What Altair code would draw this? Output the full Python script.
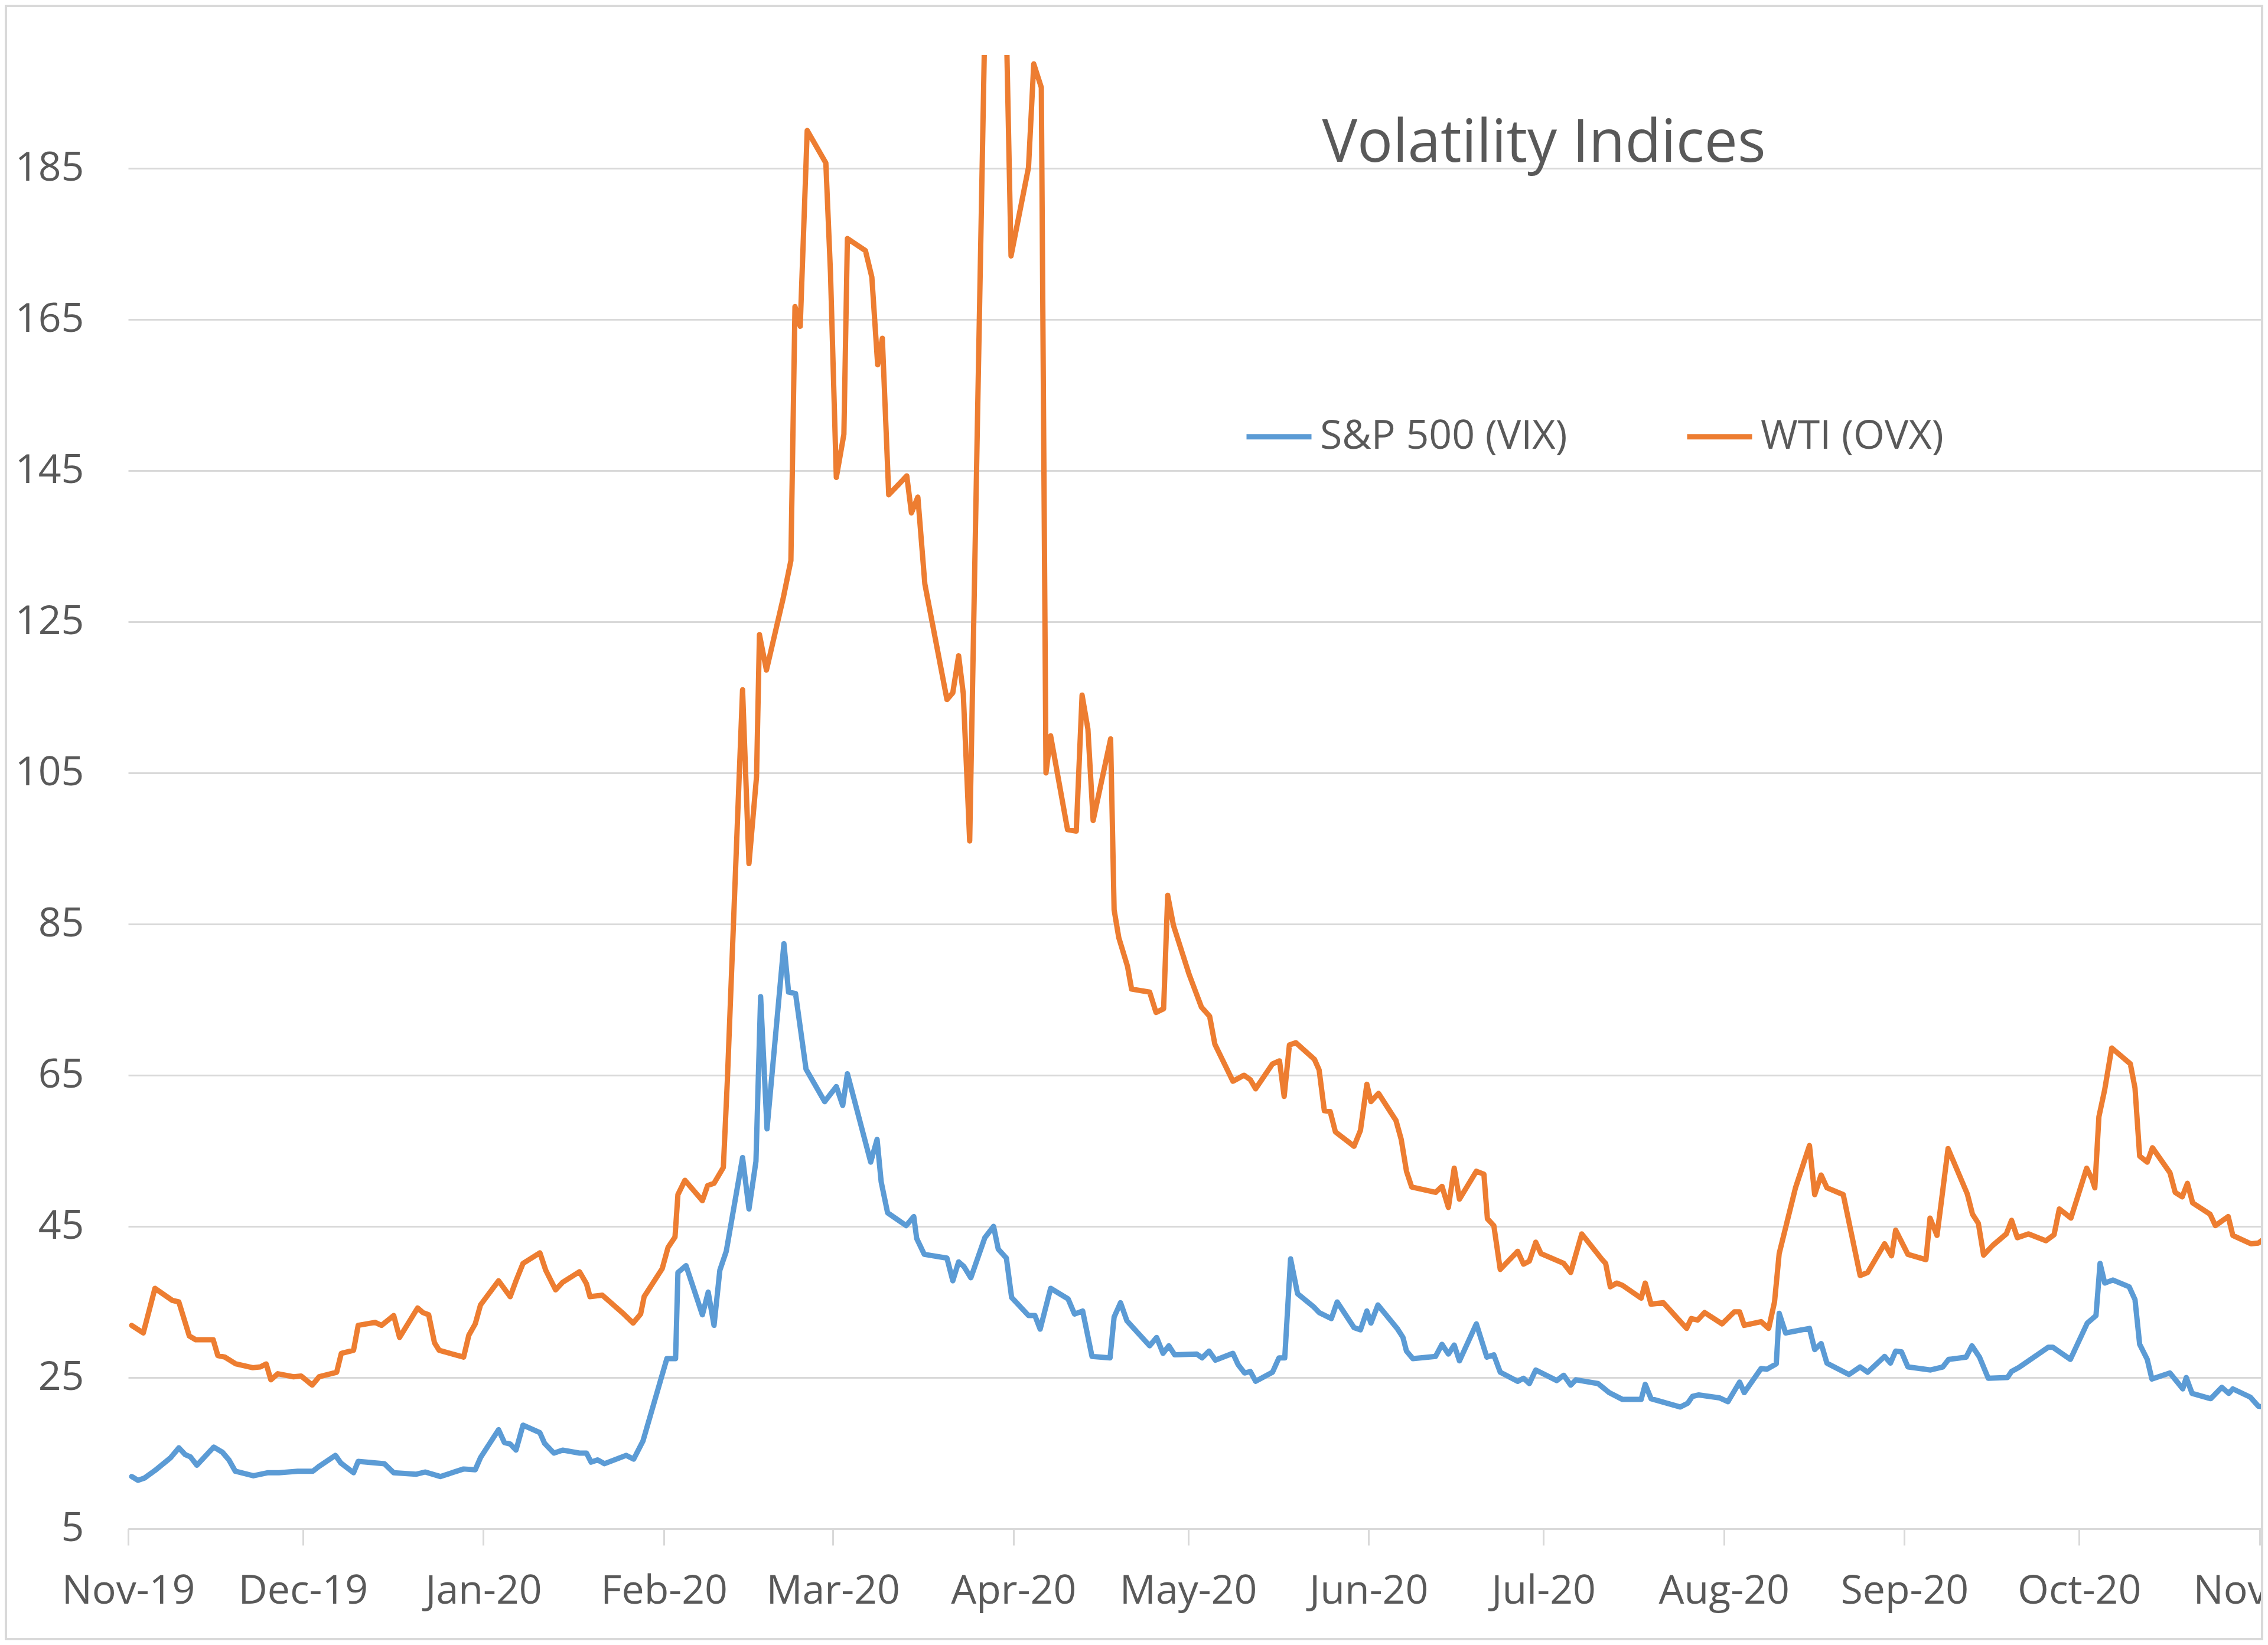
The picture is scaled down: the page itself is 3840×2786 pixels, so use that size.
import altair as alt
import pandas as pd

# ---- data (days since 1 Nov 2019, index level) ----
vix_days = [0.6, 1.7, 2.8, 4.6, 7.3, 8.7, 9.8, 10.7, 11.8, 14.7, 16.2, 17.3, 18.4, 21.5, 23.9, 25.9,
            29.1, 31.7, 32.7, 35.6, 36.5, 38.7, 39.5, 44.0, 45.6, 49.4, 51.0, 53.6, 57.6, 59.6, 60.5,
            63.6, 64.6, 65.6, 66.6, 67.8, 70.7, 71.5, 73.1, 74.6, 77.5, 78.7, 79.5, 80.6, 81.8, 85.5,
            86.8, 88.4, 92.5, 94.0, 94.4, 95.8, 98.6, 99.6, 100.6, 101.6, 102.7, 105.5, 106.6, 107.8,
            108.6, 109.7, 112.6, 113.4, 114.6, 116.4, 119.6, 121.6, 122.7, 123.5, 127.5, 128.6, 129.3,
            130.4, 133.6, 134.9, 135.4, 136.7, 140.6, 141.6, 142.6, 143.5, 144.7, 147.1, 148.6, 149.4,
            150.8, 151.7, 154.6, 155.7, 156.6, 158.4, 161.4, 162.5, 163.9, 165.5, 168.6, 169.3, 170.4,
            171.5, 175.4, 176.6, 177.7, 178.7, 179.7, 183.5, 184.4, 185.6, 186.7, 189.7, 190.6, 191.7,
            192.7, 193.6, 196.5, 197.6, 198.6, 199.6, 200.8, 203.5, 204.5, 206.6, 207.6, 210.5, 211.6,
            212.7, 213.4, 214.6, 217.9, 218.9, 219.5, 220.6, 224.5, 225.6, 226.7, 227.7, 228.6, 231.5,
            233.3, 234.5, 235.6, 238.6, 239.6, 240.6, 241.7, 245.3, 246.5, 247.7, 248.6, 252.4, 254.3,
            256.6, 259.8, 260.5, 261.5, 266.5, 267.8, 268.6, 269.7, 273.3, 274.7, 276.7, 277.5, 280.4,
            281.4, 283.0, 283.5, 284.6, 288.7, 289.6, 290.7, 291.7, 295.5, 297.4, 298.7, 301.6, 302.6,
            303.5, 304.5, 305.6, 309.5, 311.6, 312.6, 315.6, 316.6, 317.9, 319.4, 322.7, 323.4, 324.8,
            329.7, 330.5, 333.5, 336.4, 337.9, 338.6, 339.4, 340.8, 343.6, 344.6, 345.4, 346.7, 347.5,
            350.6, 352.8, 353.4, 354.4, 357.6, 359.5, 360.7, 361.4, 364.4, 365.8, 366.7]
vix_values = [11.9, 11.4, 11.7, 12.7, 14.4, 15.7, 14.8, 14.5, 13.4, 15.8, 15.1, 14.1, 12.6, 12.0, 12.4, 12.4,
              12.6, 12.6, 13.2, 14.7, 13.7, 12.4, 13.9, 13.6, 12.4, 12.2, 12.5, 11.9, 12.9, 12.8, 14.4,
              18.1, 16.4, 16.2, 15.4, 18.7, 17.7, 16.3, 15.0, 15.4, 15.0, 15.0, 13.8, 14.1, 13.6, 14.7,
              14.2, 16.6, 27.5, 27.5, 38.9, 39.8, 33.3, 36.3, 31.9, 39.2, 41.7, 54.1, 47.3, 53.6,
              75.4, 57.9, 82.4, 76.0, 75.8, 65.8, 61.5, 63.5, 61.0, 65.2, 53.5, 56.5, 50.9,
              46.8, 45.1, 46.3, 43.4, 41.3, 40.8, 37.8, 40.3, 39.7, 38.2, 43.5, 45.0, 42.0,
              40.8, 35.6, 33.2, 33.2, 31.4, 36.8, 35.4, 33.4, 33.8, 27.8, 27.6, 33.0, 34.9,
              32.5, 29.2, 30.3, 28.2, 29.2, 28.0, 28.1, 27.6, 28.5, 27.3, 28.2, 26.7, 25.6,
              25.8, 24.5, 25.7, 27.6, 27.6, 40.7, 36.1, 34.4, 33.6, 32.8, 35.0, 31.6, 31.3,
              33.8, 32.2, 34.6, 31.5, 30.3, 28.5, 27.5, 27.8, 29.4, 28.1, 29.3, 27.2, 32.1,
              27.7, 28.0, 25.7, 24.5, 24.9, 24.2, 26.0, 24.6, 25.3, 24.0, 24.7, 24.2, 23.0,
              22.1, 22.1, 24.1, 22.2, 21.1, 21.6, 22.5, 22.7, 22.3, 21.8, 24.4, 23.0, 26.2,
              26.1, 26.8, 33.5, 30.9, 31.5, 28.7, 29.5, 26.9, 25.4, 26.4, 25.7, 27.8, 26.9,
              28.5, 28.4, 26.4, 26.0, 26.4, 27.4, 27.7, 29.2, 27.7, 24.9, 25.0, 25.8, 26.4,
              29.0, 29.0, 27.4, 32.2, 33.2, 40.1, 37.5, 37.9, 37.0, 35.3, 29.4, 27.4, 24.8,
              25.6, 23.5, 25.0, 22.9, 22.2, 23.7, 22.9, 23.5, 22.4, 21.2, 21.1]

ovx_days = [0.6, 2.6, 4.6, 7.6, 8.7, 10.5, 11.6, 14.6, 15.4, 16.6, 18.5, 21.4, 22.7, 23.7, 24.5, 25.7,
            28.4, 29.7, 31.6, 32.8, 35.8, 36.6, 38.7, 39.5, 42.4, 43.5, 45.6, 46.6, 49.7, 50.6, 51.6,
            52.6, 53.4, 57.6, 58.5, 59.6, 60.5, 63.6, 65.6, 66.6, 67.8, 70.7, 71.7, 73.4, 74.6, 77.5,
            78.7, 79.3, 81.4, 85.1, 86.7, 88.0, 88.6, 91.7, 92.7, 93.9, 94.4, 95.6, 98.6, 99.5, 100.6,
            102.2, 102.9, 105.5, 106.6, 107.9, 108.4, 109.6, 112.5, 113.8, 114.5, 115.4, 116.6, 119.8,
            120.6, 121.6, 122.9, 123.5, 126.6, 127.7, 128.7, 129.5, 130.6, 133.7, 134.5, 135.6, 136.8,
            140.6, 141.6, 142.6, 143.4, 144.5, 147.6, 149.0, 150.4, 151.6, 154.6, 155.5, 156.8, 157.6,
            158.4, 161.3, 162.8, 163.8, 164.8, 165.7, 168.7, 169.3, 170.1, 171.6, 172.3, 175.4, 176.5,
            177.8, 178.5, 179.5, 182.2, 184.3, 185.7, 186.6, 189.7, 191.6, 192.7, 193.6, 196.5, 197.7,
            198.5, 199.4, 200.5, 203.7, 204.5, 205.4, 206.4, 207.3, 210.5, 211.6, 212.7, 213.4, 214.7,
            217.7, 218.6, 219.5, 220.4, 224.5, 225.6, 226.7, 227.7, 228.6, 231.5, 232.8, 233.4, 234.5,
            235.6, 238.6, 239.6, 240.6, 241.7, 242.6, 246.5, 247.7, 249.6, 253.1, 253.7, 254.5, 255.6,
            256.6, 259.8, 260.5, 261.5, 263.6, 267.6, 268.4, 269.5, 270.7, 273.7, 275.8, 276.7, 277.5,
            280.4, 281.7, 282.7, 283.5, 286.3, 288.7, 289.6, 290.7, 291.7, 294.5, 297.4, 298.7, 301.6,
            302.8, 303.5, 305.6, 308.7, 309.4, 310.6, 311.4, 312.5, 313.1, 315.8, 316.7, 317.7, 318.6,
            320.2, 322.5, 323.4, 324.4, 326.3, 329.3, 330.7, 331.6, 333.6, 336.3, 337.2, 337.7, 338.4,
            339.4, 340.6, 343.8, 344.6, 345.4, 346.7, 347.6, 350.6, 351.5, 352.7, 353.6, 354.5, 357.5,
            358.4, 360.6, 361.4, 364.5, 365.8, 366.7]
ovx_values = [31.9, 30.9, 36.8, 35.2, 35.0, 30.5, 30.0, 30.0, 27.9, 27.7, 26.8, 26.3, 26.4, 26.8, 24.7, 25.5,
              25.1, 25.2, 24.0, 25.1, 25.7, 28.2, 28.6, 31.9, 32.3, 31.9, 33.2, 30.3, 34.2, 33.6, 33.3,
              29.6, 28.6, 27.7, 30.6, 32.1, 34.6, 37.8, 35.7, 37.8, 40.1, 41.5, 39.2, 36.6, 37.6, 39.0,
              37.4, 35.7, 35.9, 33.4, 32.2, 33.4, 35.7, 39.4, 42.2, 43.6, 49.2, 51.1, 48.4, 50.4, 50.7,
              52.8, 64.5, 116.0, 93.0, 104.5, 123.3, 118.6, 128.2, 133.1, 166.7, 164.1, 190.0, 185.7,
              171.1, 144.1, 149.8, 175.7, 174.1, 170.6, 159.0, 162.5, 141.8, 144.3, 139.4, 141.5, 130.0,
              114.7, 115.6, 120.5, 115.5, 96.0, 225.0, 260.0, 219.0, 173.4, 185.1, 198.8, 195.7, 105.0,
              109.9, 97.5, 97.3, 115.3, 110.8, 98.7, 109.5, 86.9, 83.2, 79.4, 76.4, 76.0, 73.3,
              73.8, 88.8, 84.8, 78.3, 74.0, 72.8, 69.1, 64.2, 65.0, 64.4, 63.2, 66.5, 66.9,
              62.2, 69.0, 69.3, 67.1, 65.7, 60.3, 60.2, 57.5, 55.6, 57.7, 63.8, 61.5, 62.6,
              59.0, 56.5, 52.3, 50.2, 49.5, 50.3, 47.5, 52.7, 48.6, 52.3, 51.9, 46.0, 45.1,
              39.3, 41.7, 40.0, 40.4, 42.9, 41.4, 40.1, 38.9, 44.0, 40.6, 40.1, 37.0, 37.5,
              37.2, 35.5, 37.5, 34.7, 34.9, 31.5, 32.8, 32.6, 33.6, 32.1, 33.7, 33.7, 31.9,
              32.4, 31.5, 35.0, 41.4, 50.1, 55.7, 49.2, 51.8, 50.1, 49.2, 38.5, 38.9, 42.7,
              41.1, 44.5, 41.3, 40.6, 46.1, 43.8, 48.6, 55.3, 54.2, 49.3, 46.6, 45.4, 41.2,
              42.5, 44.0, 45.8, 43.5, 44.0, 43.1, 43.9, 47.3, 46.1, 52.7, 51.3, 50.1, 59.5,
              63.1, 68.6, 66.5, 63.3, 54.3, 53.5, 55.4, 52.1, 49.5, 48.9, 50.7, 48.1, 46.6,
              45.1, 46.3, 43.8, 42.7, 42.8, 43.3]

series_names = ["S&P 500 (VIX)", "WTI (OVX)"]
series_colors = ["#5B9BD5", "#ED7D31"]
y_ticks = [5, 25, 45, 65, 85, 105, 125, 145, 165, 185]
title_text = "Volatility Indices"

# ---- build table ----
start = pd.Timestamp("2019-11-01", tz="UTC")


def to_dates(days):
    ts = start + pd.to_timedelta(days, unit="D")
    return [t.strftime("%Y-%m-%dT%H:%M:%SZ") for t in ts]


df = pd.concat([
    pd.DataFrame({"date": to_dates(vix_days), "value": vix_values, "series": series_names[0]}),
    pd.DataFrame({"date": to_dates(ovx_days), "value": ovx_values, "series": series_names[1]}),
], ignore_index=True)

W, H = 3615, 2496
PAD = {"left": 209, "top": 85, "right": 0, "bottom": 189}
FONT = "Open Sans"
TXT = "#595959"
GRID = "#d9d9d9"
LW = 9

lines = alt.Chart(df).mark_line(clip=True, strokeWidth=LW, strokeJoin="round", strokeCap="round").encode(
    x=alt.X("date:T",
            scale=alt.Scale(type="utc",
                            domain=[alt.DateTime(year=2019, month=11, date=1, utc=True),
                                    alt.DateTime(year=2020, month=11, date=1, hours=15, utc=True)]),
            axis=alt.Axis(title=None, format="%b-%y", tickCount={"interval": "month", "step": 1},
                          grid=False, domain=True, domainColor=GRID, domainWidth=3,
                          ticks=True, tickColor=GRID, tickWidth=3, tickSize=28,
                          labelFont=FONT, labelFontSize=68, labelColor=TXT, labelPadding=44,
                          labelFlush=False, labelOverlap=False, labelLimit=1000)),
    y=alt.Y("value:Q",
            scale=alt.Scale(domain=[5, 200], nice=False, zero=False),
            axis=alt.Axis(title=None, values=y_ticks, grid=True, gridColor=GRID, gridWidth=3,
                          domain=False, ticks=False, labelFont=FONT, labelFontSize=68,
                          labelColor=TXT, labelPadding=75, labelLimit=1000)),
    color=alt.Color("series:N",
                    scale=alt.Scale(domain=series_names, range=series_colors),
                    legend=alt.Legend(title=None, orient="none", legendX=1889, legendY=587,
                                      direction="horizontal", symbolType="stroke",
                                      symbolSize=12100, symbolStrokeWidth=LW,
                                      labelFont=FONT, labelFontSize=68, labelColor=TXT,
                                      labelOffset=10, labelLimit=1000,
                                      columnPadding=184, padding=0)),
)

title = alt.Chart(pd.DataFrame({"t": [title_text]})).mark_text(
    font=FONT, fontSize=100, color=TXT, align="center", baseline="alphabetic"
).encode(text="t:N", x=alt.value(2397), y=alt.value(181))

frame = alt.Chart(pd.DataFrame({"k": [0]})).mark_rect(
    fillOpacity=0, stroke=GRID, strokeWidth=4, clip=False
).encode(x=alt.value(-PAD["left"] + 2), x2=alt.value(W + PAD["right"] - 2),
         y=alt.value(-PAD["top"] + 2), y2=alt.value(H + PAD["bottom"] - 2))

chart = alt.layer(lines, title, frame).properties(
    width=W, height=H, padding=PAD,
    autosize=alt.AutoSizeParams(type="none"),
    background="white",
).configure_view(strokeWidth=0)

chart.save("out.html", embed_options={"renderer": "svg", "actions": False})
